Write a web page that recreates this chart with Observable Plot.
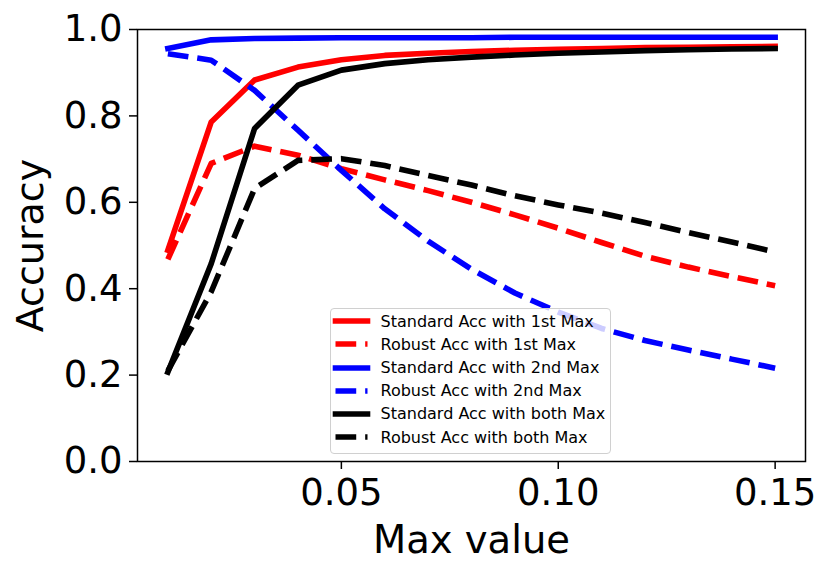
<!DOCTYPE html>
<html>
<head>
<meta charset="utf-8">
<script src="https://cdn.jsdelivr.net/npm/d3@7"></script>
<script src="https://cdn.jsdelivr.net/npm/@observablehq/plot@0.6"></script>
<style>
  html, body { margin: 0; padding: 0; background: white; }
  #wrap { position: relative; width: 831px; height: 575px; font-family: "DejaVu Sans", sans-serif; }
  #legend { position: absolute; left: 330px; top: 308px; width: 281px; height: 146px; box-sizing: border-box;
            border: 1.5px solid #d0d0d0; border-radius: 4px; background: rgba(255,255,255,0.8); padding-top: 0.6px; }
  .row { height: 23.2px; display: flex; align-items: center; }
  .row svg { display: block; flex: none; }
  .row span { margin-left: 5.5px; font-size: 16px; color: #000; white-space: nowrap; }
  g[aria-label="x-axis label"] text { font-size: 38.5px; }
  g[aria-label="y-axis label"] text { font-size: 38px; }
</style>
</head>
<body>
<div id="wrap"></div>
<script>
const maxValues = [0.01, 0.02, 0.03, 0.04, 0.05, 0.06, 0.07, 0.08, 0.09, 0.10, 0.11, 0.12, 0.13, 0.14, 0.15];

const standard1st = [0.489, 0.786, 0.883, 0.913, 0.930, 0.940, 0.945, 0.949, 0.952, 0.954, 0.956, 0.958, 0.959, 0.960, 0.961];
const robust1st   = [0.468, 0.690, 0.730, 0.709, 0.678, 0.652, 0.627, 0.600, 0.571, 0.540, 0.507, 0.475, 0.450, 0.428, 0.407];
const standard2nd = [0.956, 0.976, 0.979, 0.980, 0.981, 0.981, 0.981, 0.981, 0.982, 0.982, 0.982, 0.982, 0.982, 0.982, 0.982];
const robust2nd   = [0.944, 0.929, 0.859, 0.767, 0.674, 0.585, 0.510, 0.445, 0.390, 0.346, 0.308, 0.280, 0.258, 0.237, 0.216];
const standardBoth= [0.207, 0.458, 0.771, 0.871, 0.906, 0.921, 0.930, 0.936, 0.941, 0.945, 0.948, 0.951, 0.953, 0.955, 0.956];
const robustBoth  = [0.210, 0.393, 0.632, 0.697, 0.701, 0.685, 0.662, 0.640, 0.615, 0.594, 0.575, 0.553, 0.530, 0.508, 0.485];

const seriesNames = [
  "Standard Acc with 1st Max",
  "Robust Acc with 1st Max",
  "Standard Acc with 2nd Max",
  "Robust Acc with 2nd Max",
  "Standard Acc with both Max",
  "Robust Acc with both Max"
];
const seriesValues = [standard1st, robust1st, standard2nd, robust2nd, standardBoth, robustBoth];
const seriesColors = ["#ff0000", "#ff0000", "#0000ff", "#0000ff", "#000000", "#000000"];
const seriesDashed = [false, true, false, true, false, true];

const xTicks = [0.05, 0.10, 0.15];
const yTicks = [0.0, 0.2, 0.4, 0.6, 0.8, 1.0];

const LW = 5.6;
const DASH = `${(3.7 * LW).toFixed(2)},${(1.6 * LW).toFixed(2)}`;

const lineMarks = seriesNames.map((name, i) => {
  const rows = maxValues.map((x, j) => ({x, y: seriesValues[i][j], series: name}));
  return Plot.line(rows, {
    x: "x", y: "y",
    stroke: seriesColors[i],
    strokeWidth: LW,
    strokeDasharray: seriesDashed[i] ? DASH : null,
    strokeLinecap: seriesDashed[i] ? "butt" : "square",
    strokeLinejoin: "round"
  });
});

const chart = Plot.plot({
  width: 831,
  height: 575,
  marginLeft: 137,
  marginRight: 26,
  marginTop: 29,
  marginBottom: 114,
  style: {fontFamily: "DejaVu Sans, sans-serif", fontSize: "37px", color: "#000", background: "white", overflow: "visible"},
  x: {domain: [0.003, 0.157]},
  y: {domain: [0, 1]},
  marks: [
    ...lineMarks,
    Plot.frame({stroke: "#000", strokeWidth: 1.5}),
    Plot.axisX({ticks: xTicks, tickFormat: d3.format(".2f"), tickSize: 8, tickPadding: 9,
                strokeWidth: 1.5, fontSize: 37, label: "Max value", labelAnchor: "center",
                labelArrow: "none", labelOffset: 91}),
    Plot.axisY({ticks: yTicks, tickFormat: d3.format(".1f"), tickSize: 8, tickPadding: 7,
                strokeWidth: 1.5, fontSize: 37, label: "Accuracy", labelAnchor: "center",
                labelArrow: "none", labelOffset: 121})
  ]
});

const wrap = document.getElementById("wrap");
wrap.appendChild(chart);

// Legend
const legend = document.createElement("div");
legend.id = "legend";
seriesNames.forEach((name, i) => {
  const row = document.createElement("div");
  row.className = "row";
  const svgNS = "http://www.w3.org/2000/svg";
  const svg = document.createElementNS(svgNS, "svg");
  svg.setAttribute("width", "44");
  svg.setAttribute("height", "14");
  const line = document.createElementNS(svgNS, "line");
  line.setAttribute("x1", "4.5");
  line.setAttribute("x2", "36.5");
  line.setAttribute("y1", "7");
  line.setAttribute("y2", "7");
  line.setAttribute("stroke", seriesColors[i]);
  line.setAttribute("stroke-width", LW);
  line.setAttribute("stroke-linecap", seriesDashed[i] ? "butt" : "square");
  if (seriesDashed[i]) line.setAttribute("stroke-dasharray", DASH);
  svg.appendChild(line);
  const span = document.createElement("span");
  span.textContent = name;
  row.appendChild(svg);
  row.appendChild(span);
  legend.appendChild(row);
});
wrap.appendChild(legend);
</script>
</body>
</html>
